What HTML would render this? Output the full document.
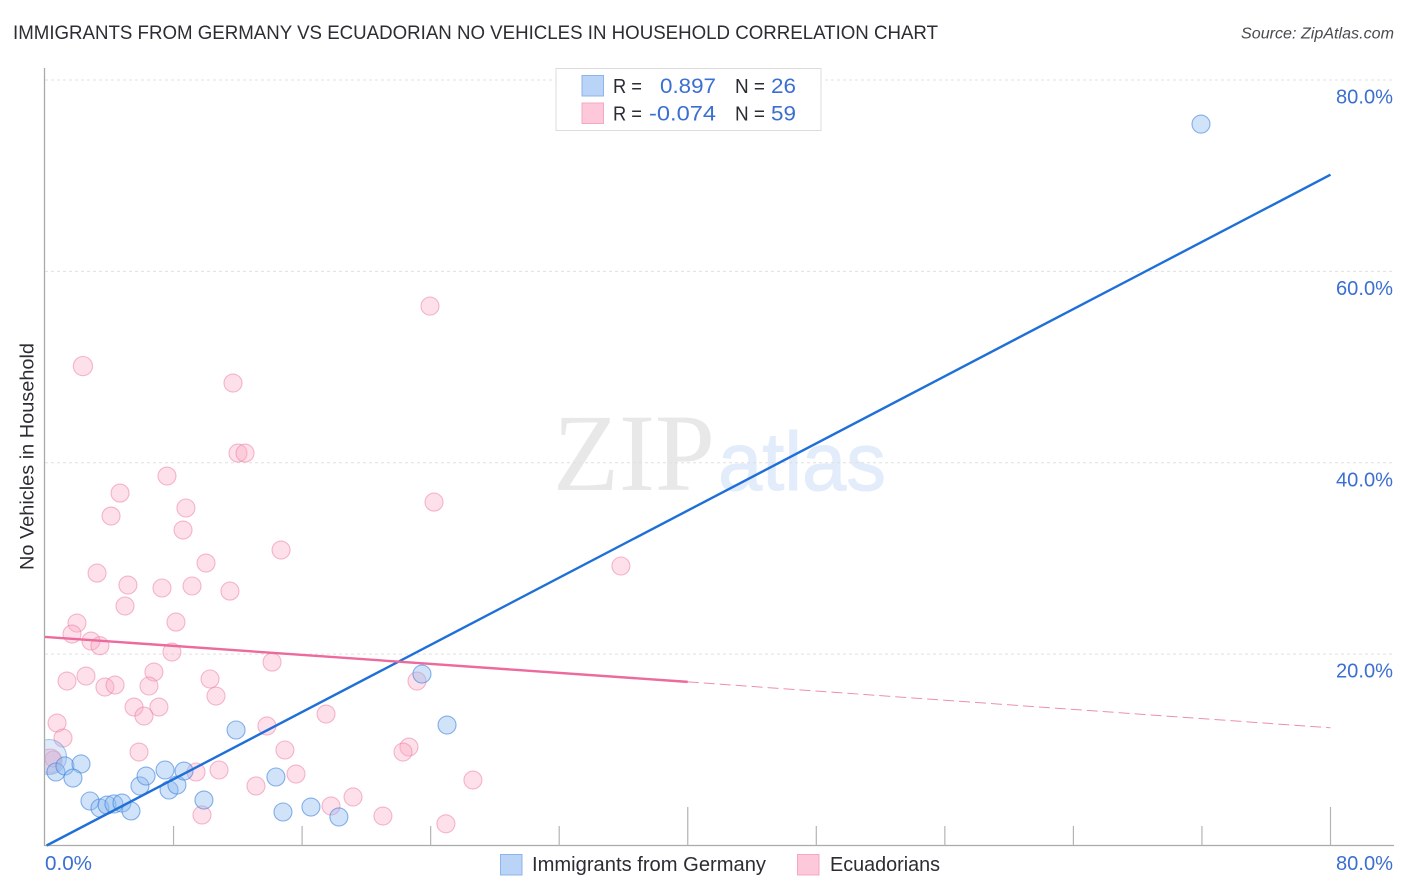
<!DOCTYPE html>
<html lang="en">
<head>
<meta charset="utf-8">
<title>Immigrants from Germany vs Ecuadorian No Vehicles in Household Correlation Chart</title>
<style>
html,body{margin:0;padding:0;background:#fff;width:1406px;height:892px;overflow:hidden}
svg{display:block;font-family:"Liberation Sans",sans-serif}
</style>
</head>
<body>
<svg id="chart" width="1406" height="892" viewBox="0 0 1406 892">
  <text x="13" y="39" font-size="19.5" fill="#2c2c34" textLength="925" lengthAdjust="spacingAndGlyphs">IMMIGRANTS FROM GERMANY VS ECUADORIAN NO VEHICLES IN HOUSEHOLD CORRELATION CHART</text>
  <text x="1241" y="38.500" font-size="15.500" font-style="italic" fill="#4a4a52" textLength="153" lengthAdjust="spacingAndGlyphs">Source: ZipAtlas.com</text>

  <g>
    <text x="553" y="490" font-family="'Liberation Serif',serif" font-size="110" fill="#e8e8e8" textLength="162" lengthAdjust="spacingAndGlyphs">ZIP</text>
    <text x="718" y="490" font-family="'Liberation Sans',sans-serif" font-size="83" fill="#e3ecfa" stroke="#e3ecfa" stroke-width="1" textLength="168" lengthAdjust="spacingAndGlyphs">atlas</text>
  </g>

  <g id="grid"></g>
  <g id="axes"></g>
  <g id="pinkPoints"></g>
  <g id="bluePoints"></g>
  <rect x="0" y="60" width="44" height="786" fill="#fff"/>
  <line x1="44.500" x2="44.500" y1="68" y2="846" stroke="#aaaaaa" stroke-width="1.3"/>
  <g id="trends"></g>

  <g>
    <rect x="556" y="68.500" width="265" height="62" fill="#fff" stroke="#dcdcdc" stroke-width="1"/>
    <rect x="582" y="75.500" width="21.500" height="20.500" fill="#b9d4f7" stroke="#8db5ea"/>
    <rect x="582" y="103" width="21.500" height="20.500" fill="#fcc8da" stroke="#f3a9c3"/>
    <g font-size="20" fill="#2c2c34">
      <text x="613" y="93" textLength="29" lengthAdjust="spacingAndGlyphs">R =</text>
      <text x="613" y="120.500" textLength="29" lengthAdjust="spacingAndGlyphs">R =</text>
      <text x="735" y="93" textLength="30" lengthAdjust="spacingAndGlyphs">N =</text>
      <text x="735" y="120.500" textLength="30" lengthAdjust="spacingAndGlyphs">N =</text>
    </g>
    <g font-size="21.500" fill="#3b6fd1">
      <text x="660" y="93" textLength="56" lengthAdjust="spacingAndGlyphs">0.897</text>
      <text x="649" y="120.500" textLength="67" lengthAdjust="spacingAndGlyphs">-0.074</text>
      <text x="771" y="93" textLength="25" lengthAdjust="spacingAndGlyphs">26</text>
      <text x="771" y="120.500" textLength="25" lengthAdjust="spacingAndGlyphs">59</text>
    </g>
  </g>

  <g>
    <rect x="500.500" y="854.500" width="21.500" height="20.500" fill="#b9d4f7" stroke="#8db5ea"/>
    <text x="532" y="871" font-size="20" fill="#2c2c34" textLength="234" lengthAdjust="spacingAndGlyphs">Immigrants from Germany</text>
    <rect x="797.500" y="854.500" width="21.500" height="20.500" fill="#fcc8da" stroke="#f3a9c3"/>
    <text x="830" y="871" font-size="20" fill="#2c2c34" textLength="110" lengthAdjust="spacingAndGlyphs">Ecuadorians</text>
  </g>

  <text x="-570" y="33.500" transform="rotate(-90)" font-size="19.500" fill="#2c2c34" textLength="227" lengthAdjust="spacingAndGlyphs">No Vehicles in Household</text>
</svg>

<script>
var yTickValues = [20, 40, 60, 80];
var yTickLabels = ["20.0%", "40.0%", "60.0%", "80.0%"];
var xTickValues = [0, 8, 16, 24, 32, 40, 48, 56, 64, 72, 80];
var xEndValues = [0, 80];
var xEndLabels = ["0.0%", "80.0%"];

var germanyX = [0.25, 0.68, 1.24, 2.24, 1.74, 2.80, 3.42, 3.86, 4.29, 4.79, 5.35, 5.91, 6.29, 7.47, 7.72, 8.21, 8.65, 9.89, 11.89, 14.37, 14.81, 16.55, 18.29, 23.46, 25.02, 71.94];
var germanyY = [9.25, 7.68, 8.31, 8.52, 7.05, 4.65, 3.92, 4.23, 4.34, 4.44, 3.61, 6.22, 7.26, 7.89, 5.80, 6.32, 7.78, 4.75, 12.07, 7.16, 3.50, 4.02, 2.98, 17.92, 12.59, 75.39];

var ecuadorX = [2.36, 23.96, 11.70, 12.01, 12.45, 7.59, 4.67, 8.77, 24.21, 4.11, 8.59, 14.69, 10.02, 3.24, 35.84, 5.16, 7.28, 9.15, 11.51, 4.98, 1.99, 8.15, 1.68, 2.86, 3.42, 7.90, 14.13, 2.55, 1.37, 6.78, 10.27, 23.15, 3.73, 4.36, 6.47, 10.64, 5.54, 7.09, 6.16, 17.49, 0.75, 13.81, 1.12, 5.85, 14.93, 22.65, 22.28, 0.50, 0.31, 9.40, 10.83, 15.62, 26.63, 13.13, 19.17, 17.80, 9.77, 21.03, 24.95];
var ecuadorY = [50.10, 56.37, 48.33, 41.01, 41.01, 38.61, 36.83, 35.27, 35.89, 34.43, 32.97, 30.88, 29.52, 28.47, 29.21, 27.22, 26.91, 27.12, 26.59, 25.03, 23.25, 23.35, 22.10, 21.37, 20.88, 20.22, 19.17, 17.71, 17.19, 18.13, 17.40, 17.19, 16.56, 16.77, 16.67, 15.62, 14.47, 14.47, 13.53, 13.74, 12.80, 12.49, 11.23, 9.77, 9.98, 10.29, 9.77, 9.04, 8.83, 7.68, 7.89, 7.47, 6.84, 6.22, 5.07, 4.13, 3.19, 3.08, 2.27];

var germanyTrendX = [0.1, 80];
var germanyTrendY = [0, 70.1];
var ecuadorSolidX = [0, 40];
var ecuadorSolidY = [21.8, 17.1];
var ecuadorDashX = [40, 80];
var ecuadorDashY = [17.1, 12.3];

var NS = 'http://www.w3.org/2000/svg';
function sx(v) { return 45 + v * (1330.5 - 45) / 80; }
function sy(v) { return 845.5 - v * (845.5 - 80) / 80; }
function mk(parent, tag, attrs, text) {
  var el = document.createElementNS(NS, tag);
  for (var k in attrs) el.setAttribute(k, attrs[k]);
  if (text !== undefined) el.textContent = text;
  document.getElementById(parent).appendChild(el);
  return el;
}
function pinkRadius(i) {
  if (i === 0) return 9.6;
  if (i === 48) return 12;
  if (i === 47) return 8;
  return 9;
}

yTickValues.forEach(function (v, i) {
  var line = mk('grid', 'line', {x1: 45, x2: 1393, y1: sy(v), y2: sy(v), stroke: '#e0e0e0', 'stroke-width': 1, 'stroke-dasharray': '3 3'});
  
  
  var label = mk('axes', 'text', {x: 1336, y: sy(v) + 23.5, 'font-size': 20, fill: '#3b6fd1', textLength: 57, lengthAdjust: 'spacingAndGlyphs'}, yTickLabels[i]);
  
  
});

var xAxis = mk('axes', 'line', {x1: 44, x2: 1394, y1: 845.5, y2: 845.5, stroke: '#aaaaaa', 'stroke-width': 1.3});



xTickValues.forEach(function (v, i) {
  if (i === 0) return;
  var tall = (i % 5 === 0);
  var tick = mk('axes', 'line', {x1: sx(v), x2: sx(v), y1: tall ? 807 : 826, y2: 845.5, stroke: '#b4b4b4', 'stroke-width': 1.2});
  
  
});

xEndValues.forEach(function (v, i) {
  var label = mk('axes', 'text', {x: i === 0 ? 45 : 1336, y: 870, 'font-size': 20, fill: '#3b6fd1', textLength: i === 0 ? 47 : 57, lengthAdjust: 'spacingAndGlyphs'}, xEndLabels[i]);
  
  
});

ecuadorX.forEach(function (v, i) {
  var c = mk('pinkPoints', 'circle', {cx: sx(v), cy: sy(ecuadorY[i]), r: pinkRadius(i), fill: 'rgba(250,170,195,0.36)', stroke: 'rgba(236,130,165,0.55)', 'stroke-width': 1.1});
  
  
});

germanyX.forEach(function (v, i) {
  var c = mk('bluePoints', 'circle', {cx: sx(v), cy: sy(germanyY[i]), r: i === 0 ? 17.5 : 9, fill: i === 0 ? 'rgba(140,185,240,0.3)' : 'rgba(140,185,240,0.4)', stroke: i === 0 ? 'rgba(60,130,220,0.45)' : 'rgba(60,130,220,0.6)', 'stroke-width': 1.1});
  
  
});

var t1 = mk('trends', 'line', {x1: sx(germanyTrendX[0]), y1: sy(germanyTrendY[0]), x2: sx(germanyTrendX[1]), y2: sy(germanyTrendY[1]), stroke: '#1f6fd8', 'stroke-width': 2.4});


var t2 = mk('trends', 'line', {x1: sx(ecuadorSolidX[0]), y1: sy(ecuadorSolidY[0]), x2: sx(ecuadorSolidX[1]), y2: sy(ecuadorSolidY[1]), stroke: '#ec6a9c', 'stroke-width': 2.4});


var t3 = mk('trends', 'line', {x1: sx(ecuadorDashX[0]), y1: sy(ecuadorDashY[0]), x2: sx(ecuadorDashX[1]), y2: sy(ecuadorDashY[1]), stroke: '#ec8fb2', 'stroke-width': 1, 'stroke-dasharray': '11 5'});


</script>
</body>
</html>
